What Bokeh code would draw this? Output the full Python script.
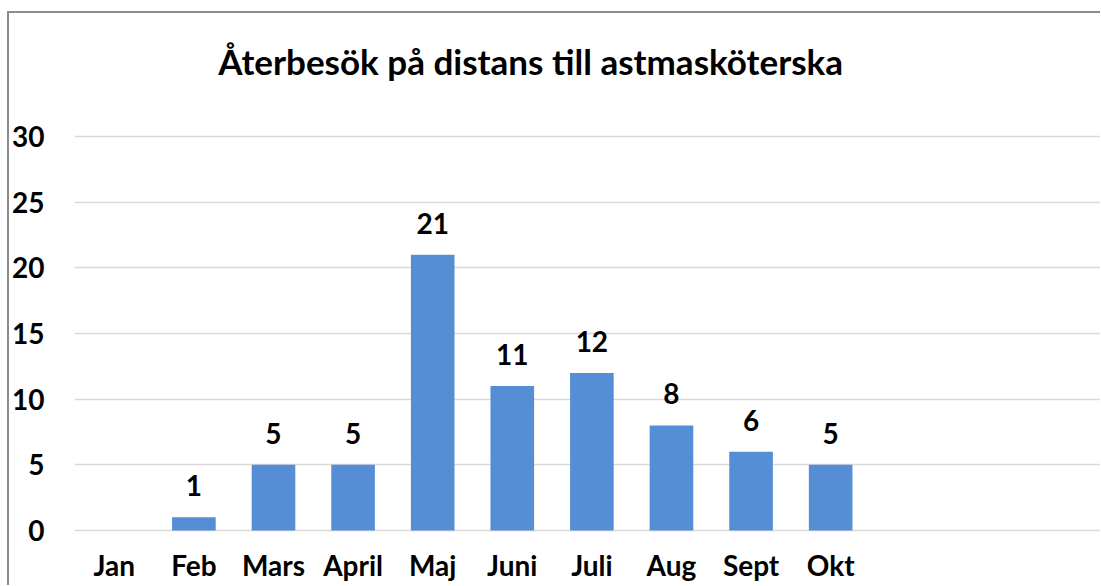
from bokeh.plotting import figure
from bokeh.models import ColumnDataSource, LabelSet, Label, FixedTicker, Range1d
from bokeh.core.properties import value
from bokeh.embed import file_html
from bokeh.resources import INLINE

title_text = "Återbesök på distans till astmasköterska"
months = ["Jan", "Feb", "Mars", "April", "Maj", "Juni", "Juli", "Aug", "Sept", "Okt"]
visits = [None, 1, 5, 5, 21, 11, 12, 8, 6, 5]
y_ticks = [0, 5, 10, 15, 20, 25, 30]

idx = list(range(len(months)))
bar_x = [i for i, v in zip(idx, visits) if v is not None]
bar_v = [v for v in visits if v is not None]

bars = ColumnDataSource(dict(x=bar_x, top=bar_v, label=[str(v) for v in bar_v]))
cats = ColumnDataSource(dict(x=idx, y=[0] * len(idx), name=months))

FONT = "Lato"
BLUE = "#558ED5"

p = figure(width=1093, height=574, output_backend="svg", toolbar_location=None,
           x_range=Range1d(-0.5, 12.39), y_range=Range1d(-4.188, 39.518),
           min_border_left=67, min_border_right=0, min_border_top=0, min_border_bottom=0)
# chart-area frame (left and top edges) drawn as an inset shadow behind a transparent canvas
p.styles = {"margin-left": "7px", "margin-top": "11px",
            "box-shadow": "inset 2px 2px 0 0 #8c8c8c"}
p.outline_line_color = None
p.background_fill_color = None
p.border_fill_color = None

p.xaxis.visible = False
p.xgrid.visible = False

p.yaxis.ticker = FixedTicker(ticks=y_ticks)
p.yaxis.axis_line_color = None
p.yaxis.major_tick_line_color = None
p.yaxis.minor_tick_line_color = None
p.yaxis.major_label_text_font = FONT
p.yaxis.major_label_text_font_style = "bold"
p.yaxis.major_label_text_font_size = "28px"
p.yaxis.major_label_text_color = "black"
p.yaxis.major_label_standoff = 24
p.ygrid.grid_line_color = "#d9d9d9"
p.ygrid.grid_line_width = 1.5

p.vbar(x="x", top="top", width=0.548, source=bars, fill_color=BLUE, line_color=None)

p.add_layout(LabelSet(x="x", y="top", text="label", source=bars, y_offset=21,
                      text_align="center", text_baseline="alphabetic",
                      text_font=value(FONT), text_font_style="bold", text_font_size="28px",
                      text_color="black"))

p.add_layout(LabelSet(x="x", y="y", text="name", source=cats, y_offset=-46,
                      text_align="center", text_baseline="alphabetic",
                      text_font=value(FONT), text_font_style="bold", text_font_size="28px",
                      text_color="black"))

p.add_layout(Label(x=5.23, y=35.73, text=title_text, text_align="center", text_baseline="alphabetic",
                   text_font=FONT, text_font_style="bold", text_font_size="35px",
                   text_color="black"))

open("out.html", "w").write(file_html(p, INLINE))
